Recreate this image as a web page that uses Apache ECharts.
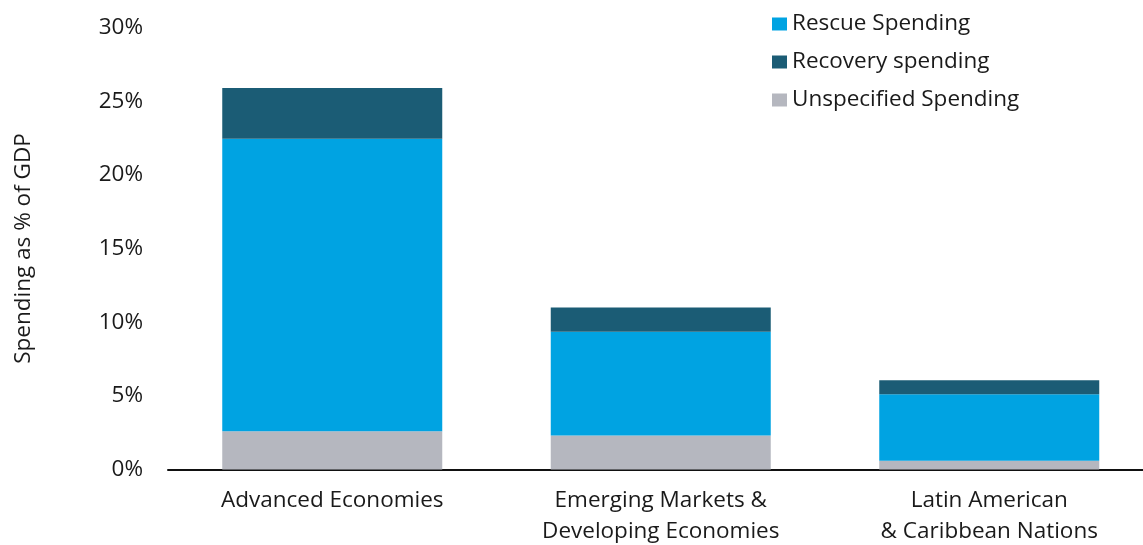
<!DOCTYPE html>
<html>
<head>
<meta charset="utf-8">
<script src="https://cdn.jsdelivr.net/npm/echarts@6/dist/echarts.min.js"></script>
<style>
  html, body { margin: 0; padding: 0; background: #fff; }
  #chart { width: 1143px; height: 545px; }
</style>
</head>
<body>
<div id="chart"></div>
<script>
// Fiscal response spending as a share of GDP, by country group
const categories = ['Advanced Economies', 'Emerging Markets &\nDeveloping Economies', 'Latin American\n& Caribbean Nations'];
const unspecifiedSpending = [2.6, 2.3, 0.6];
const rescueSpending = [19.85, 7.05, 4.5];
const recoverySpending = [3.45, 1.65, 0.95];
const yTicks = [0, 5, 10, 15, 20, 25, 30];

const FONT = 'Open Sans';
const FS = 22.5;
const chart = echarts.init(document.getElementById('chart'));

chart.setOption({
  animation: false,
  textStyle: { fontFamily: FONT },
  // the plot area runs a little past the right edge of the canvas
  grid: { left: 168, right: -10.5, top: 27.5, bottom: 75.5, containLabel: false, outerBoundsMode: 'none' },
  legend: {
    orient: 'vertical',
    left: 767,
    top: 7,
    itemWidth: 15,
    itemHeight: 13,
    itemGap: 14,
    data: ['Rescue Spending', 'Recovery spending', 'Unspecified Spending'],
    textStyle: { fontFamily: FONT, fontSize: FS, lineHeight: 24, color: '#1a1a1a', padding: [0, 0, 0, 0] },
    icon: 'rect'
  },
  xAxis: {
    type: 'category',
    data: categories,
    axisLine: { lineStyle: { color: '#111', width: 2 } },
    axisTick: { show: false },
    axisLabel: { fontFamily: FONT, fontSize: FS, color: '#1a1a1a', margin: 16, lineHeight: 31 }
  },
  yAxis: {
    type: 'value',
    min: yTicks[0],
    max: yTicks[yTicks.length - 1],
    interval: 5,
    name: 'Spending as % of GDP',
    nameLocation: 'middle',
    nameGap: 133,
    nameRotate: 90,
    nameTextStyle: { fontFamily: FONT, fontSize: FS, color: '#1a1a1a' },
    axisLine: { show: false },
    axisTick: { show: false },
    splitLine: { show: false },
    axisLabel: { fontFamily: FONT, fontSize: FS, color: '#1a1a1a', margin: 25, formatter: '{value}%' }
  },
  series: [
    {
      name: 'Unspecified Spending', type: 'bar', stack: 'total', barWidth: 220,
      itemStyle: { color: '#b5b7bf' }, data: unspecifiedSpending
    },
    {
      name: 'Rescue Spending', type: 'bar', stack: 'total', barWidth: 220,
      itemStyle: { color: '#00a3e2' }, data: rescueSpending
    },
    {
      name: 'Recovery spending', type: 'bar', stack: 'total', barWidth: 220,
      itemStyle: { color: '#1b5c75' }, data: recoverySpending
    }
  ]
});
</script>
</body>
</html>
